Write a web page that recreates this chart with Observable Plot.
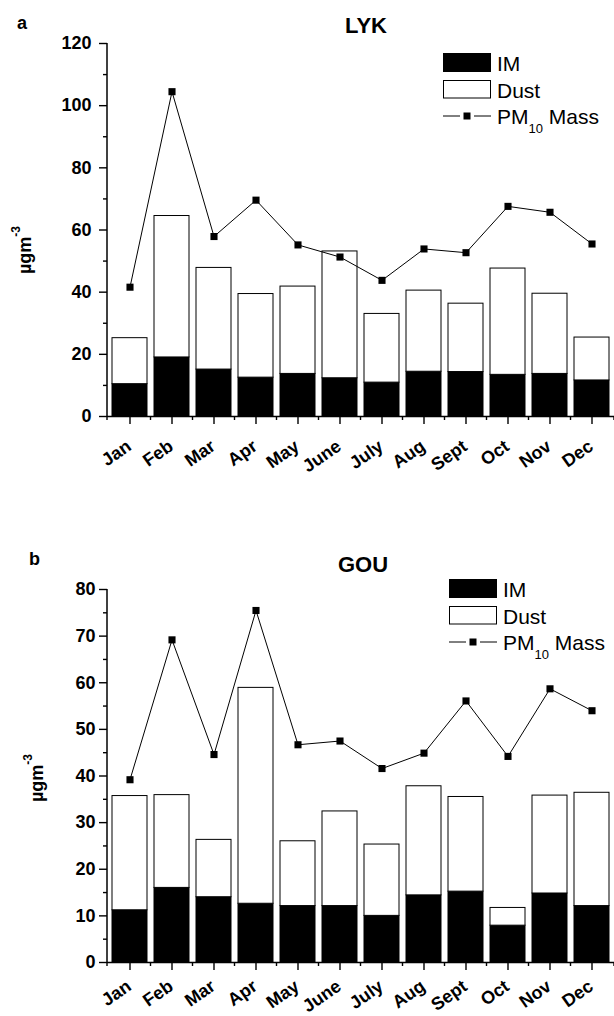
<!DOCTYPE html>
<html><head><meta charset="utf-8">
<script src="https://cdn.jsdelivr.net/npm/d3@7"></script>
<script src="https://cdn.jsdelivr.net/npm/@observablehq/plot@0.6"></script>
<style>
body{margin:0;background:#fff;width:614px;}
svg{display:block;overflow:visible}
</style></head><body><div id="chart"></div>
<script>
const months = ["Jan","Feb","Mar","Apr","May","June","July","Aug","Sept","Oct","Nov","Dec"];

// Panel a: LYK (µg m-3)
const lykIM    = [10.4, 19.0, 15.1, 12.5, 13.7, 12.3, 10.9, 14.4, 14.3, 13.4, 13.7, 11.6];
const lykTotal = [25.2, 64.5, 47.8, 39.4, 41.8, 53.1, 33.0, 40.5, 36.3, 47.6, 39.5, 25.4];
const lykPM    = [41.6, 104.5, 57.9, 69.6, 55.2, 51.3, 43.8, 53.9, 52.7, 67.6, 65.7, 55.5];
const lykMajor = [0, 20, 40, 60, 80, 100, 120];
const lykMinor = [10, 30, 50, 70, 90, 110];

// Panel b: GOU (µg m-3)
const gouIM    = [11.2, 16.0, 14.0, 12.6, 12.1, 12.1, 10.0, 14.4, 15.2, 7.9, 14.8, 12.1];
const gouTotal = [35.7, 35.9, 26.3, 58.9, 26.0, 32.4, 25.3, 37.8, 35.5, 11.7, 35.8, 36.4];
const gouPM    = [39.2, 69.2, 44.6, 75.5, 46.7, 47.5, 41.6, 44.9, 56.1, 44.2, 58.7, 54.0];
const gouMajor = [0, 10, 20, 30, 40, 50, 60, 70, 80];
const gouMinor = [5, 15, 25, 35, 45, 55, 65, 75];

const legendLabels = ["IM", "Dust", "PM", "10", " Mass"];
const FONT = "'Liberation Sans', Arial, Helvetica, sans-serif";

function panel(o) {
  const data = months.map((m, i) => ({month: m, im: o.im[i], total: o.total[i], pm: o.pm[i]}));
  const ymax = o.major[o.major.length - 1];
  const plot = Plot.plot({
    width: 614, height: o.height,
    marginTop: o.marginTop, marginBottom: o.marginBottom, marginLeft: 107, marginRight: 0,
    style: {fontFamily: FONT, color: "black", background: "white", overflow: "visible"},
    x: {domain: months, paddingInner: 0.166, paddingOuter: 0.1, axis: null},
    y: {domain: [0, ymax], axis: null},
    marks: [
      Plot.barY(data, {x: "month", y1: 0, y2: "im", fill: "black", stroke: "black", strokeWidth: 1}),
      Plot.barY(data, {x: "month", y1: "im", y2: "total", fill: "white", stroke: "black", strokeWidth: 1}),
      Plot.line(data, {x: "month", y: "pm", stroke: "black", strokeWidth: 1}),
      Plot.dot(data, {x: "month", y: "pm", symbol: "square", fill: "black", stroke: "none", r: 4}),
      Plot.ruleY([0], {stroke: "black", strokeWidth: 1.5}),
      Plot.axisY({ticks: o.major, tickSize: 8, tickPadding: o.tickPadding, fontSize: 18, fontWeight: "bold", label: null, strokeWidth: 1.4}),
      Plot.axisY({ticks: o.minor, tickSize: 4, tickFormat: () => "", label: null, strokeWidth: 1.4}),
      Plot.axisX({tickSize: 8, tickFormat: () => "", label: null, strokeWidth: 1.4})
    ]
  });

  const svg = d3.select(plot);
  const xs = plot.scale("x"), ys = plot.scale("y");
  const [r0, r1] = xs.range;
  const y0 = ys.apply(0), yTop = ys.apply(ymax);
  // left axis line
  svg.append("line").attr("x1", r0).attr("x2", r0).attr("y1", y0).attr("y2", yTop)
    .attr("stroke", "black").attr("stroke-width", 1.5);
  // minor x ticks at band boundaries
  const gap = xs.step - xs.bandwidth;
  const bounds = [r0, ...months.slice(1).map(m => xs.apply(m) - gap / 2), r1];
  svg.append("g").selectAll("line").data(bounds).join("line")
    .attr("x1", d => d).attr("x2", d => d).attr("y1", y0).attr("y2", y0 + 4)
    .attr("stroke", "black").attr("stroke-width", 1.4);
  // rotated month labels, positioned with the x scale
  svg.append("g").attr("font-family", FONT).attr("font-size", 18).attr("font-weight", "bold")
    .attr("text-anchor", "end").attr("fill", "black")
    .selectAll("text").data(months).join("text")
    .attr("transform", m => `translate(${xs.apply(m) + xs.bandwidth / 2 + 3},${y0 + o.labelOffset}) rotate(-35)`)
    .text(m => m);

  const g = svg.append("g").attr("font-family", FONT).attr("fill", "black").attr("text-anchor", "start");
  // panel letter and title
  g.append("text").attr("x", o.letter[1]).attr("y", o.letter[2]).attr("font-size", 18)
    .attr("font-weight", "bold").text(o.letter[0]);
  g.append("text").attr("x", o.title[1]).attr("y", o.title[2]).attr("font-size", 22)
    .attr("font-weight", "bold").attr("text-anchor", "middle").text(o.title[0]);
  // y label
  const yl = g.append("text").attr("transform", `translate(${o.ylab[0]},${o.ylab[1]}) rotate(-90)`)
    .attr("text-anchor", "middle").attr("font-size", 18).attr("font-weight", "bold");
  yl.append("tspan").text("µgm");
  yl.append("tspan").attr("font-size", 12).attr("dy", -11).text("-3");
  // legend
  const [lx, ly] = o.legend;
  g.append("rect").attr("x", lx).attr("y", ly).attr("width", 48).attr("height", 19).attr("fill", "black");
  g.append("rect").attr("x", lx + 0.5).attr("y", ly + 27.5).attr("width", 47).attr("height", 17.5)
    .attr("fill", "white").attr("stroke", "black").attr("stroke-width", 1);
  const ply = ly + 63;
  g.append("line").attr("x1", lx).attr("x2", lx + 17).attr("y1", ply).attr("y2", ply).attr("stroke", "black");
  g.append("line").attr("x1", lx + 31).attr("x2", lx + 48).attr("y1", ply).attr("y2", ply).attr("stroke", "black");
  g.append("rect").attr("x", lx + 20.5).attr("y", ply - 3.5).attr("width", 7).attr("height", 7).attr("fill", "black");
  const tx = lx + 54;
  g.append("text").attr("x", tx).attr("y", ly + 18).attr("font-size", 21).text(legendLabels[0]);
  g.append("text").attr("x", tx).attr("y", ly + 45).attr("font-size", 21).text(legendLabels[1]);
  const pt = g.append("text").attr("x", tx).attr("y", ly + 71).attr("font-size", 21).attr("xml:space", "preserve");
  pt.append("tspan").text(legendLabels[2]);
  pt.append("tspan").attr("font-size", 13).attr("dy", 9).text(legendLabels[3]);
  pt.append("tspan").attr("dy", -9).text(legendLabels[4]);
  return plot;
}

const root = document.getElementById("chart");
root.append(panel({
  im: lykIM, total: lykTotal, pm: lykPM, major: lykMajor, minor: lykMinor,
  height: 480, marginTop: 43, marginBottom: 64, tickPadding: 8, labelOffset: 33,
  letter: ["a", 17, 29], title: ["LYK", 366, 33], ylab: [31, 250], legend: [443, 53]
}));
root.append(panel({
  im: gouIM, total: gouTotal, pm: gouPM, major: gouMajor, minor: gouMinor,
  height: 536, marginTop: 109, marginBottom: 54, tickPadding: 4, labelOffset: 27,
  letter: ["b", 29, 85], title: ["GOU", 363, 92], ylab: [43, 298], legend: [449, 99]
}));
</script></body></html>
